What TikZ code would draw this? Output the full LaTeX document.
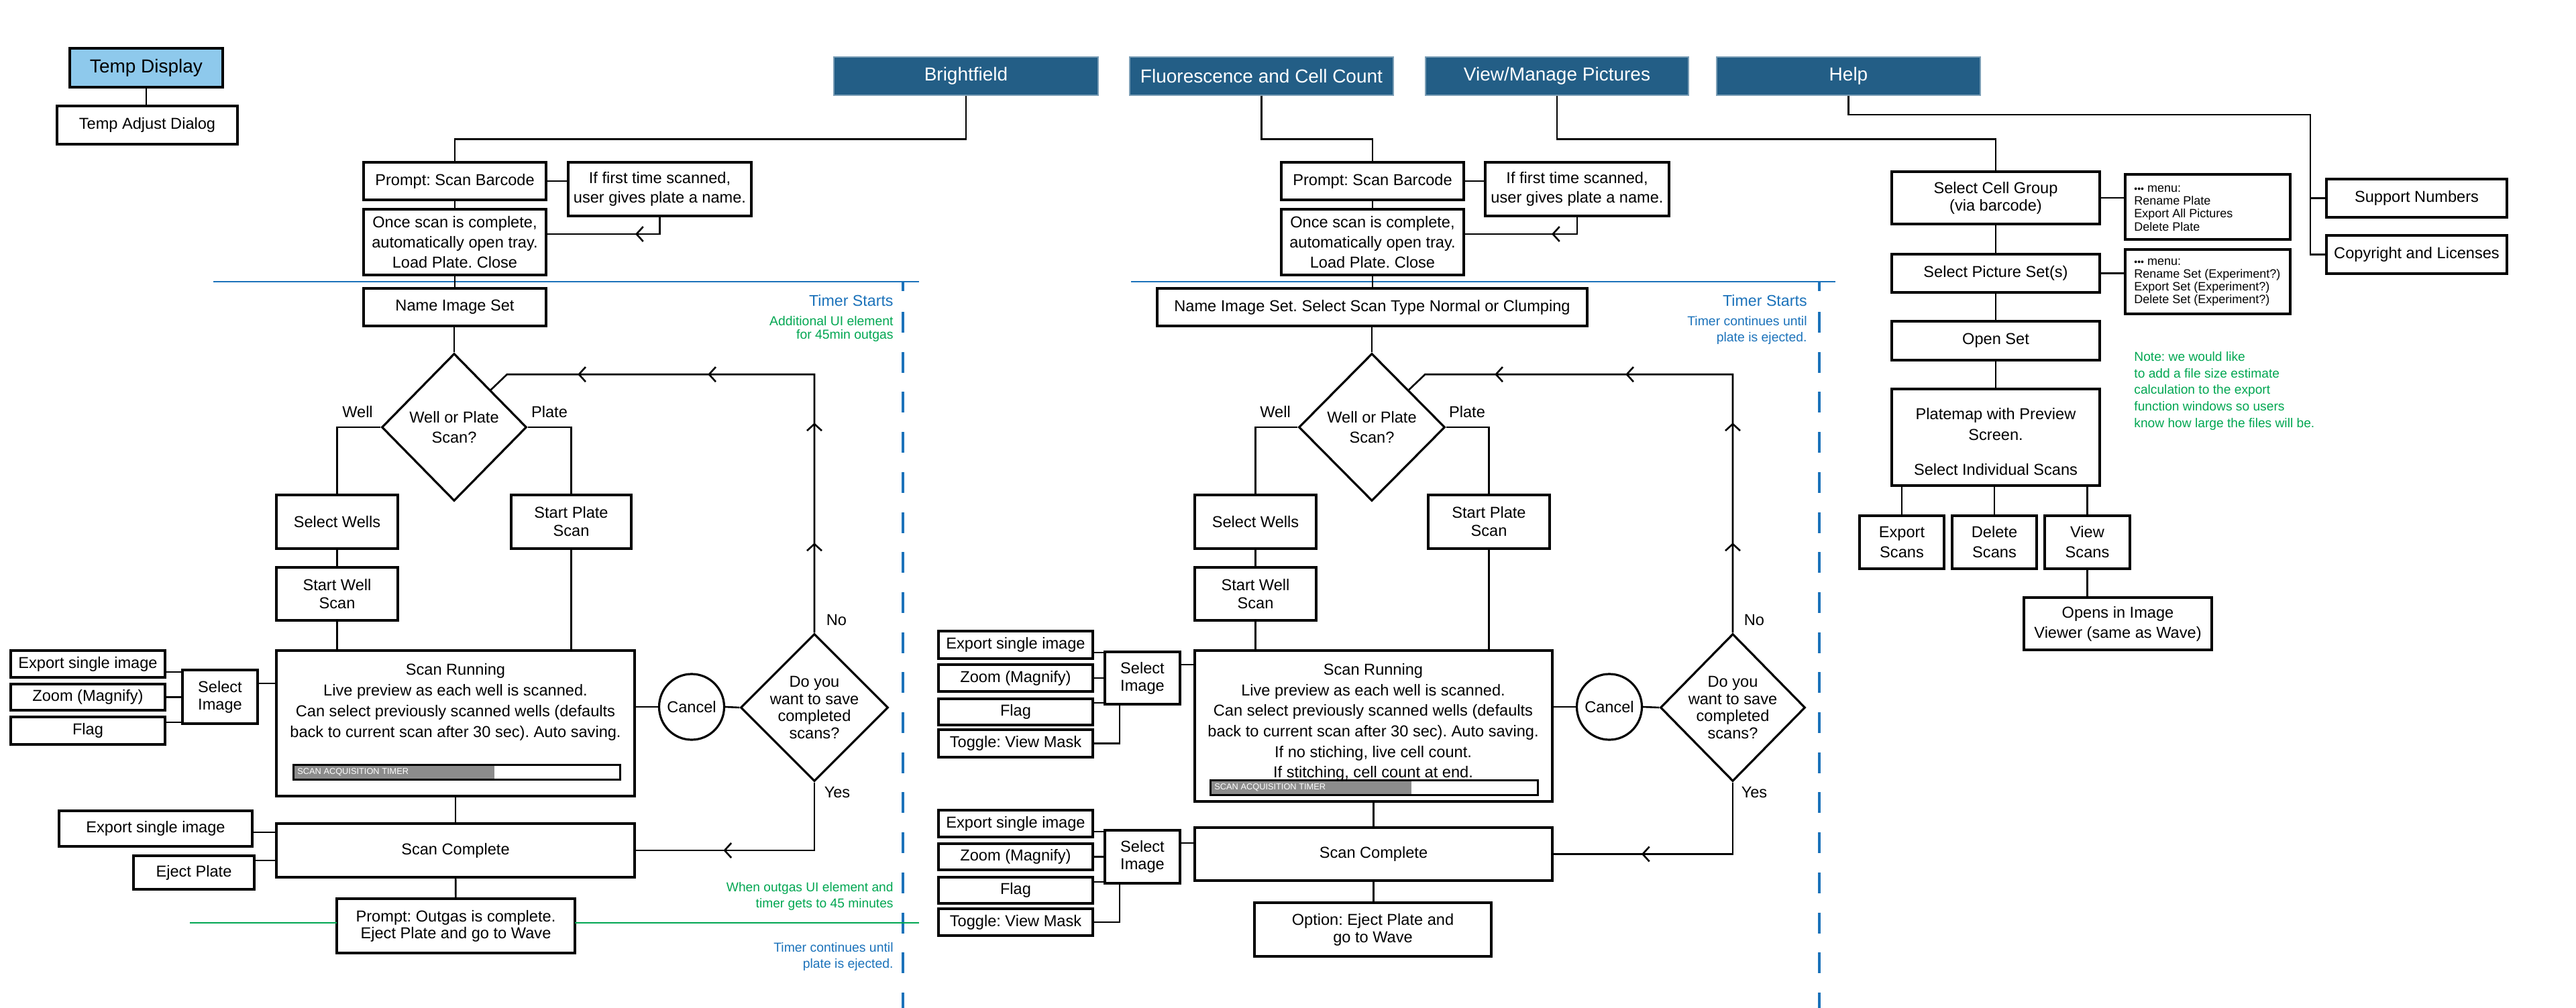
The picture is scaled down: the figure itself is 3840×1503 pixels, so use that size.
\documentclass[tikz,border=0pt]{standalone}
\usepackage{fontspec}
\setmainfont{Liberation Sans}
\usetikzlibrary{shapes.geometric,arrows.meta,decorations.markings,calc}
\definecolor{hdr}{RGB}{35,94,134}
\definecolor{tempblue}{RGB}{142,201,236}
\definecolor{lineblue}{RGB}{27,114,186}
\definecolor{notegreen}{RGB}{0,166,81}
\definecolor{bargray}{RGB}{140,140,140}
\newcommand\fsz[2]{\fontsize{#1}{#2}\selectfont}
\newcommand\chevtip{\arrow{Straight Barb[length=5pt,width=11pt,line width=1.3pt]}}
\newcommand\bxn[6][]{\node[#1,minimum width={(#5-#3)*0.5pt},minimum height={(#6-#4)*0.5pt}] (#2) at ({(#3+#5)/2},{(#4+#6)/2})}
\begin{document}
\frenchspacing
\begin{tikzpicture}[x=0.5pt,y=-0.5pt,
 box/.style={draw=black, line width=1.8pt, fill=white, inner sep=0pt, outer sep=0pt, align=center, font=\fsz{11.8}{14}},
 hdrbox/.style={fill=hdr, draw=hdr!60!white, line width=0.6pt, inner sep=0pt, text=white, font=\fsz{14}{16}},
 conn/.style={draw=black, line width=1.3pt},
 lbl/.style={inner sep=0pt, font=\fsz{11.8}{14}},
 dia/.style={diamond, draw=black, line width=1.6pt, fill=white, inner sep=-6pt, aspect=1, align=center},
 canc/.style={ellipse, draw=black, line width=1.6pt, fill=white, inner sep=-3pt, minimum width=48.5pt, minimum height=49pt, font=\fsz{11.8}{14}},
 bluel/.style={draw=lineblue, line width=1.4pt},
 greenl/.style={draw=notegreen, line width=1.4pt},
 bluetxt/.style={text=lineblue, inner sep=0pt, align=right, anchor=east},
 greentxt/.style={text=notegreen, inner sep=0pt, align=right, anchor=east},
 menutxt/.style={inner sep=0pt, align=left, anchor=west, font=\fsz{9}{9.6}},
 pbar/.style={draw=black, line width=1.5pt, inner sep=0pt},
 bartxt/.style={text=white, inner sep=0pt, anchor=west, font=\fsz{6.4}{7}}
]
\useasboundingbox (0,0) rectangle (3840,1503);

% ---------- timer lines ----------
\draw[bluel] (318,420) -- (1370,420);
\draw[bluel, line width=1.6pt] (1346,420) -- (1346,434);
\draw[bluel, line width=1.6pt, dash pattern=on 15.5pt off 14.35pt] (1346,465) -- (1346,1503);
\draw[bluel] (1686,420) -- (2736,420);
\draw[bluel, line width=1.6pt] (2712,420) -- (2712,434);
\draw[bluel, line width=1.6pt, dash pattern=on 15.5pt off 14.35pt] (2712,465) -- (2712,1503);

% ---------- top / headers ----------
\bxn[box, fill=tempblue, font=\fsz{14}{16}]{tempd}{104}{72}{332}{130} {Temp Display};
\bxn[box]{tempa}{85}{158}{354}{215} {Temp Adjust Dialog};
\draw[conn] (tempd.south) -- (tempd.south |- tempa.north);

\bxn[hdrbox]{hbf}{1243}{85}{1637}{142} {Brightfield};
\bxn[hdrbox]{hfl}{1684}{85}{2077}{142} {Fluorescence and Cell Count};
\bxn[hdrbox]{hvm}{2125}{85}{2517}{142} {View/Manage Pictures};
\bxn[hdrbox]{hhelp}{2559}{85}{2952}{142} {Help};

% ---------- Panel 1: Brightfield ----------
\bxn[box]{p1prompt}{542}{242}{814}{298} {Prompt: Scan Barcode};
\bxn[box, font=\fsz{11.8}{14.5}]{p1first}{847}{242}{1120}{322} {If first time scanned,\\user gives plate a name.};
\bxn[box, font=\fsz{11.8}{15}]{p1once}{542}{312}{814}{410} {Once scan is complete,\\automatically open tray.\\Load Plate. Close};
\bxn[box]{p1name}{542}{430}{814}{486} {Name Image Set};
\node[dia, minimum width=108pt, minimum height=110pt, font=\fsz{11.8}{15}] (p1dia) at (677,637) {Well or Plate\\Scan?};
\bxn[box]{p1selw}{412}{738}{593}{818} {Select Wells};
\bxn[box, font=\fsz{11.8}{13.5}]{p1plate}{762}{738}{941}{818} {Start Plate\\Scan};
\bxn[box, font=\fsz{11.8}{13.5}]{p1startw}{412}{846}{593}{925} {Start Well\\Scan};
\bxn[box]{p1run}{412}{970}{946}{1187} {};
\node[lbl, align=center, font=\fsz{11.8}{15.5}] (p1runt) at (679,1047) {Scan Running\\Live preview as each well is scanned.\\Can select previously scanned wells (defaults\\back to current scan after 30 sec). Auto saving.};
\fill[bargray] (437,1140) rectangle (737,1162);
\bxn[pbar]{p1bar}{437}{1140}{924}{1162} {};
\node[bartxt] (p1bart) at (443,1151) {SCAN ACQUISITION TIMER};
\bxn[box]{p1exp}{16}{970}{246}{1010} {Export single image};
\bxn[box]{p1zoom}{16}{1020}{246}{1059} {Zoom (Magnify)};
\bxn[box]{p1flag}{16}{1069}{246}{1110} {Flag};
\bxn[box, font=\fsz{11.8}{13}]{p1sel}{272}{999}{384}{1079} {Select\\Image};
\node[canc] (p1cancel) at (1031,1054) {Cancel};
\node[dia, minimum width=110pt, minimum height=110pt, font=\fsz{11.8}{12.7}] (p1save) at (1214,1055) {Do you\\want to save\\completed\\scans?};
\bxn[box]{p1done}{412}{1228}{946}{1308} {Scan Complete};
\bxn[box]{p1exp2}{88}{1209}{376}{1262} {Export single image};
\bxn[box]{p1eject}{199}{1276}{379}{1326} {Eject Plate};
\bxn[box, font=\fsz{11.8}{12.5}]{p1out}{502}{1340}{857}{1421} {Prompt: Outgas is complete.\\Eject Plate and go to Wave};
\draw[greenl] (p1out.west |- 0,1376) -- (283,1376);
\draw[greenl] (p1out.east |- 0,1376) -- (1370,1376);

\node[lbl] (p1well) at (533,614) {Well};
\node[lbl] (p1platel) at (819,614) {Plate};
\node[lbl] (p1no) at (1247,924) {No};
\node[lbl] (p1yes) at (1248,1181) {Yes};
\node[bluetxt, font=\fsz{11.6}{14}] (p1timer) at (1332,448) {Timer Starts};
\node[greentxt, font=\fsz{9.7}{10}] (p1add) at (1332,490) {Additional UI element\\for 45min outgas};
\node[greentxt, font=\fsz{9.6}{12.3}] (p1when) at (1332,1336.5) {When outgas UI element and\\timer gets to 45 minutes};
\node[bluetxt, font=\fsz{9.7}{12}] (p1cont) at (1332,1426) {Timer continues until\\plate is ejected.};

\draw[conn] (hbf.south) -- ++(0,65) -| (p1prompt.north);
\draw[conn] (p1prompt.east) -- (p1prompt.east -| p1first.west);
\draw[conn] (p1prompt) -- (p1once);
\draw[conn, postaction={decorate}, decoration={markings, mark=at position 31.75pt with {\chevtip}}] (p1first.south) |- ([yshift=6pt]p1once.east);
\draw[conn] (p1once) -- (p1name);
\draw[conn] (p1dia.north |- p1name.south) -- (p1dia.north);
\draw[conn] (p1dia.west) -| (p1selw.north);
\draw[conn] (p1dia.east) -| (p1plate.north);
\draw[conn] (p1selw) -- (p1startw);
\draw[conn] (p1startw.south) -- (p1startw.south |- p1run.north);
\draw[conn] (p1plate.south) -- (p1plate.south |- p1run.north);
\draw[conn] (p1run) -- (p1done);
\draw[conn] (p1done) -- (p1out);
\draw[conn] ([yshift=10pt]p1sel.east) -- ([yshift=10pt]p1sel.east -| p1run.west);
\draw[conn] (p1exp.east |- 0,1002) -- (p1sel.west |- 0,1002);
\draw[conn] (p1zoom.east) -- (p1zoom.east -| p1sel.west);
\draw[conn] (p1flag.east |- 0,1077) -- (p1sel.west |- 0,1077);
\draw[conn] (p1cancel.west -| p1run.east) -- (p1cancel.west);
\draw[conn] (p1cancel.east) -- (p1save.west);
\draw[conn] (p1exp2.east |- 0,1241) -- (p1done.west |- 0,1241);
\draw[conn] (p1eject.east |- 0,1283) -- (p1done.west |- 0,1283);
\draw[conn, postaction={decorate}, decoration={markings, mark=at position 118.5pt with {\chevtip}}] (p1save.south) |- (p1done.east);
\coordinate (p1lc) at ($(p1dia.north east)+(24,-23)$);
\draw[conn, postaction={decorate}, decoration={markings,
   mark=at position 67pt with {\chevtip}, mark=at position 156.5pt with {\chevtip},
   mark=at position 272pt with {\chevtip}, mark=at position 369pt with {\chevtip}}]
   (p1save.north) |- (p1lc) -- (p1dia.north east);

% ---------- Panel 2: Fluorescence ----------
\bxn[box]{p2prompt}{1910}{242}{2182}{298} {Prompt: Scan Barcode};
\bxn[box, font=\fsz{11.8}{14.5}]{p2first}{2214}{242}{2488}{322} {If first time scanned,\\user gives plate a name.};
\bxn[box, font=\fsz{11.8}{15}]{p2once}{1910}{312}{2182}{410} {Once scan is complete,\\automatically open tray.\\Load Plate. Close};
\bxn[box]{p2name}{1725}{430}{2366}{486} {Name Image Set. Select Scan Type Normal or Clumping};
\node[dia, minimum width=109pt, minimum height=110pt, font=\fsz{11.8}{15}] (p2dia) at (2045,637) {Well or Plate\\Scan?};
\bxn[box]{p2selw}{1781}{738}{1962}{818} {Select Wells};
\bxn[box, font=\fsz{11.8}{13.5}]{p2plate}{2129}{738}{2310}{818} {Start Plate\\Scan};
\bxn[box, font=\fsz{11.8}{13.5}]{p2startw}{1781}{846}{1962}{925} {Start Well\\Scan};
\bxn[box]{p2run}{1781}{970}{2314}{1195} {};
\node[lbl, align=center, font=\fsz{11.8}{15.3}] (p2runt) at (2047,1077) {Scan Running\\Live preview as each well is scanned.\\Can select previously scanned wells (defaults\\back to current scan after 30 sec). Auto saving.\\If no stiching, live cell count.\\If stitching, cell count at end.};
\fill[bargray] (1804,1163) rectangle (2104,1185);
\bxn[pbar]{p2bar}{1804}{1163}{2292}{1185} {};
\node[bartxt] (p2bart) at (1810,1174) {SCAN ACQUISITION TIMER};
\bxn[box]{p2exp}{1399}{941}{1629}{982} {Export single image};
\bxn[box]{p2zoom}{1399}{991}{1629}{1031} {Zoom (Magnify)};
\bxn[box]{p2flag}{1399}{1042}{1629}{1081} {Flag};
\bxn[box]{p2tog}{1399}{1088}{1629}{1129} {Toggle: View Mask};
\bxn[box, font=\fsz{11.8}{13}]{p2sel}{1647}{972}{1759}{1050} {Select\\Image};
\node[canc] (p2cancel) at (2399,1054) {Cancel};
\node[dia, minimum width=108pt, minimum height=110pt, font=\fsz{11.8}{12.7}] (p2save) at (2583,1055) {Do you\\want to save\\completed\\scans?};
\bxn[box]{p2done}{1781}{1234}{2314}{1313} {Scan Complete};
\bxn[box]{p2exp2}{1399}{1208}{1629}{1248} {Export single image};
\bxn[box]{p2zoom2}{1399}{1258}{1629}{1297} {Zoom (Magnify)};
\bxn[box]{p2flag2}{1399}{1308}{1629}{1347} {Flag};
\bxn[box]{p2tog2}{1399}{1355}{1629}{1395} {Toggle: View Mask};
\bxn[box, font=\fsz{11.8}{13}]{p2sel2}{1647}{1238}{1759}{1317} {Select\\Image};
\bxn[box, font=\fsz{11.8}{13}]{p2opt}{1870}{1346}{2223}{1426} {Option: Eject Plate and\\go to Wave};

\node[lbl] (p2well) at (1901,614) {Well};
\node[lbl] (p2platel) at (2187,614) {Plate};
\node[lbl] (p2no) at (2615,924) {No};
\node[lbl] (p2yes) at (2615,1181) {Yes};
\node[bluetxt, font=\fsz{11.6}{14}] (p2timer) at (2694,448) {Timer Starts};
\node[bluetxt, font=\fsz{9.7}{12}] (p2cont) at (2694,492) {Timer continues until\\plate is ejected.};

\draw[conn] (hfl.south) -- ++(0,65) -| (p2prompt.north);
\draw[conn] (p2prompt.east) -- (p2prompt.east -| p2first.west);
\draw[conn] (p2prompt) -- (p2once);
\draw[conn, postaction={decorate}, decoration={markings, mark=at position 32.5pt with {\chevtip}}] (p2first.south) |- ([yshift=6pt]p2once.east);
\draw[conn] (p2once.south) -- (p2once.south |- p2name.north);
\draw[conn] (p2dia.north |- p2name.south) -- (p2dia.north);
\draw[conn] (p2dia.west) -| (p2selw.north);
\draw[conn] (p2dia.east) -| (p2plate.north);
\draw[conn] (p2selw) -- (p2startw);
\draw[conn] (p2startw.south) -- (p2startw.south |- p2run.north);
\draw[conn] (p2plate.south) -- (p2plate.south |- p2run.north);
\draw[conn] (p2run.south) -- (p2run.south |- p2done.north);
\draw[conn] (p2done.south) -- (p2done.south |- p2opt.north);
\draw[conn] (p2sel.east |- 0,991) -- (p2run.west |- 0,991);
\draw[conn] (p2exp.east |- 0,973) -- (p2sel.west |- 0,973);
\draw[conn] (p2zoom.east) -- (p2zoom.east -| p2sel.west);
\draw[conn] (p2flag.east |- 0,1048) -- (p2sel.west |- 0,1048);
\draw[conn] (p2tog.east) -| ([xshift=11pt]p2sel.south west);
\draw[conn] (p2sel2.east |- 0,1257) -- (p2done.west |- 0,1257);
\draw[conn] (p2exp2.east |- 0,1240) -- (p2sel2.west |- 0,1240);
\draw[conn] (p2zoom2.east) -- (p2zoom2.east -| p2sel2.west);
\draw[conn] (p2flag2.east |- 0,1315) -- (p2sel2.west |- 0,1315);
\draw[conn] (p2tog2.east) -| ([xshift=11pt]p2sel2.south west);
\draw[conn] (p2cancel.west -| p2run.east) -- (p2cancel.west);
\draw[conn] (p2cancel.east) -- (p2save.west);
\draw[conn, postaction={decorate}, decoration={markings, mark=at position 121.5pt with {\chevtip}}] (p2save.south) |- (p2done.east);
\coordinate (p2lc) at ($(p2dia.north east)+(24,-23)$);
\draw[conn, postaction={decorate}, decoration={markings,
   mark=at position 67pt with {\chevtip}, mark=at position 156.5pt with {\chevtip},
   mark=at position 272.5pt with {\chevtip}, mark=at position 370pt with {\chevtip}}]
   (p2save.north) |- (p2lc) -- (p2dia.north east);

% ---------- Panel 3: View/Manage + Help ----------
\bxn[box, font=\fsz{11.8}{13}]{p3cell}{2820}{256}{3130}{334} {Select Cell Group\\(via barcode)};
\bxn[box]{p3menu1}{3168}{260}{3414}{357} {};
\node[menutxt] (p3m1t) at (3181,310.5) {{\fsz{7}{7}•••} menu:\\Rename Plate\\Export All Pictures\\Delete Plate};
\bxn[box]{p3pics}{2820}{379}{3130}{436} {Select Picture Set(s)};
\bxn[box]{p3menu2}{3168}{372}{3414}{468} {};
\node[menutxt] (p3m2t) at (3181,421) {{\fsz{7}{7}•••} menu:\\Rename Set (Experiment?)\\Export Set (Experiment?)\\Delete Set (Experiment?)};
\bxn[box]{p3open}{2820}{479}{3130}{537} {Open Set};
\bxn[box]{p3map}{2820}{580}{3130}{724} {};
\node[lbl, align=center, font=\fsz{11.8}{15.5}] (p3mapt) at (2975,659) {Platemap with Preview\\Screen.\\[10.5pt]Select Individual Scans};
\bxn[box, font=\fsz{11.8}{15}]{p3exp}{2772}{769}{2898}{848} {Export\\Scans};
\bxn[box, font=\fsz{11.8}{15}]{p3del}{2910}{769}{3036}{848} {Delete\\Scans};
\bxn[box, font=\fsz{11.8}{15}]{p3view}{3048}{769}{3175}{848} {View\\Scans};
\bxn[box, font=\fsz{11.8}{15}]{p3opens}{3017}{891}{3297}{969} {Opens in Image\\Viewer (same as Wave)};
\bxn[box]{p3sup}{3468}{267}{3737}{324} {Support Numbers};
\bxn[box]{p3copy}{3468}{351}{3737}{408} {Copyright and Licenses};
\node[text=notegreen, inner sep=0pt, align=left, anchor=west, font=\fsz{9.6}{12.4}] (p3note) at (3181,583) {Note: we would like\\to add a file size estimate\\calculation to the export\\function windows so users\\know how large the files will be.};

\draw[conn] (hvm.south) -- ++(0,65) -| (p3cell.north);
\coordinate (hj) at (3444,171);
\draw[conn] (hhelp.south) |- (hj) |- (p3copy.west);
\draw[conn] (p3sup.west -| hj) -- (p3sup.west);
\draw[conn] (p3cell.east) -- (p3cell.east -| p3menu1.west);
\draw[conn] (p3cell) -- (p3pics);
\draw[conn] (p3pics.east) -- (p3pics.east -| p3menu2.west);
\draw[conn] (p3pics) -- (p3open);
\draw[conn] (p3open) -- (p3map);
\draw[conn] (p3exp.north |- p3map.south) -- (p3exp.north);
\draw[conn] (p3del.north |- p3map.south) -- (p3del.north);
\draw[conn] (p3view.north |- p3map.south) -- (p3view.north);
\draw[conn] (p3view.south) -- (p3view.south |- p3opens.north);
\end{tikzpicture}
\end{document}
